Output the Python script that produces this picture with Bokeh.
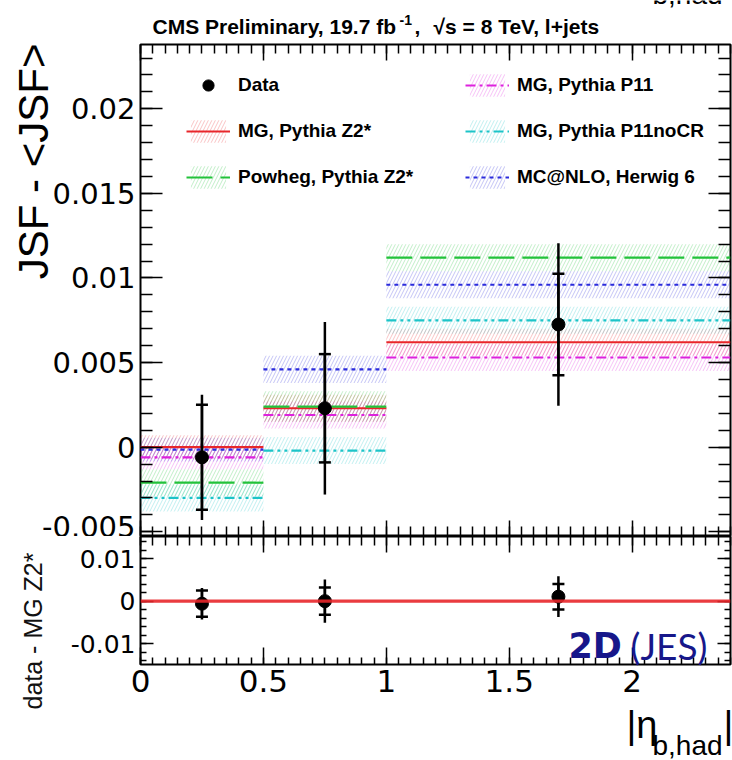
import math
from bokeh.plotting import figure
from bokeh.models import (Range1d, LinearAxis, SingleIntervalTicker, CustomJSTickFormatter,
                          Label, Legend, LegendItem, Whisker, TeeHead, ColumnDataSource, Span,
                          GridBox)
from bokeh.layouts import column
from bokeh.embed import file_html
from bokeh.resources import INLINE

# ---------------- data ----------------
bin_lo = [0.0, 0.5, 1.0]
bin_hi = [0.5, 1.0, 2.4]
bin_center = [0.25, 0.75, 1.7]

data_val = [-0.0006, 0.0023, 0.00725]
data_stat = [0.0031, 0.0032, 0.0030]
data_tot = [0.0037, 0.0051, 0.0048]

mg_z2 = [0.0000, 0.0023, 0.0062]
mg_z2_err = [0.0007, 0.0008, 0.0008]
powheg = [-0.0021, 0.0024, 0.0112]
powheg_err = [0.0008, 0.0009, 0.0008]
p11 = [-0.0006, 0.0019, 0.0053]
p11_err = [0.0007, 0.0008, 0.0008]
p11nocr = [-0.0030, -0.0002, 0.0075]
p11nocr_err = [0.0008, 0.0008, 0.0008]
mcnlo = [-0.00015, 0.0046, 0.0096]
mcnlo_err = [0.0007, 0.0008, 0.0008]

FONT = "Liberation Sans"
TICKFONT = "DejaVu Sans"

# ---------------- helpers ----------------
FMT3 = r"""
let s = tick.toFixed(3).replace(/0+$/, '').replace(/\.$/, '');
if (s == '-0') { s = '0'; }
return s;
"""
FMT2 = r"""
let s = tick.toFixed(2).replace(/0+$/, '').replace(/\.$/, '');
if (s == '-0') { s = '0'; }
return s;
"""


def make_axis(interval, nminor, fmt, tick_major, tick_minor, label_size=None, standoff=4):
    ax = LinearAxis(ticker=SingleIntervalTicker(interval=interval, num_minor_ticks=nminor),
                    formatter=CustomJSTickFormatter(code=fmt),
                    major_tick_in=tick_major, major_tick_out=0,
                    minor_tick_in=tick_minor, minor_tick_out=0,
                    major_tick_line_width=1.5, minor_tick_line_width=1.5,
                    major_tick_line_color="black", minor_tick_line_color="black",
                    axis_line_color=None)
    if label_size is None:
        ax.major_label_text_font_size = "0px"
        ax.major_label_text_color = None
        ax.major_label_standoff = 0
    else:
        ax.major_label_text_font_size = f"{label_size}px"
        ax.major_label_text_font = TICKFONT
        ax.major_label_text_color = "black"
        ax.major_label_standoff = standoff
    return ax


xr = Range1d(0, 2.4)

# ---------------- main panel ----------------
p1 = figure(width=732, height=536, x_range=xr, y_range=Range1d(-0.00528, 0.0238),
            x_axis_type=None, y_axis_type=None, toolbar_location=None, output_backend="svg",
            min_border_left=140, min_border_right=2, min_border_top=44, min_border_bottom=0,
            outline_line_color="black", outline_line_width=2,
            background_fill_color="white", border_fill_color="white")

p1.add_layout(make_axis(0.005, 5, FMT3, 22, 12, label_size=29, standoff=5), "left")
p1.add_layout(make_axis(0.005, 5, FMT3, 22, 12), "right")
p1.add_layout(make_axis(0.5, 10, FMT2, 16, 9), "above")
p1.add_layout(make_axis(0.5, 10, FMT2, 16, 10), "below")

models = [
    ("MG, Pythia Z2*", mg_z2, mg_z2_err, "#e8262a", "solid"),
    ("Powheg, Pythia Z2*", powheg, powheg_err, "#22c23a", "26 8"),
    ("MG, Pythia P11", p11, p11_err, "#dd22dd", "10 4 3 4"),
    ("MG, Pythia P11noCR", p11nocr, p11nocr_err, "#1cc4c8", "10 4 3 4 3 4"),
    ("MC@NLO, Herwig 6", mcnlo, mcnlo_err, "#2b2bdc", "4 4"),
]

bands = {}
for name, vals, errs, col, dash in models:
    src = ColumnDataSource(dict(left=bin_lo, right=bin_hi,
                                bottom=[v - e for v, e in zip(vals, errs)],
                                top=[v + e for v, e in zip(vals, errs)]))
    bands[name] = p1.quad(left="left", right="right", bottom="bottom", top="top", source=src,
                          fill_color=None, line_color=None, hatch_pattern="/",
                          hatch_color=col, hatch_alpha=0.28, hatch_scale=7, hatch_weight=1)

lines = {}
for name, vals, errs, col, dash in [models[0], models[2], models[3], models[4], models[1]]:
    src = ColumnDataSource(dict(x0=bin_lo, x1=bin_hi, y=vals))
    lines[name] = p1.segment(x0="x0", x1="x1", y0="y", y1="y", source=src,
                             line_color=col, line_width=2.2, line_dash=dash)

dsrc = ColumnDataSource(dict(
    x=bin_center, y=data_val,
    stat_lo=[v - e for v, e in zip(data_val, data_stat)],
    stat_hi=[v + e for v, e in zip(data_val, data_stat)],
    tot_lo=[v - e for v, e in zip(data_val, data_tot)],
    tot_hi=[v + e for v, e in zip(data_val, data_tot)],
))
p1.add_layout(Whisker(source=dsrc, base="x", upper="tot_hi", lower="tot_lo",
                      line_color="black", line_width=2.5, upper_head=None, lower_head=None,
                      level="glyph"))
p1.add_layout(Whisker(source=dsrc, base="x", upper="stat_hi", lower="stat_lo",
                      line_color="black", line_width=2.5, level="glyph",
                      upper_head=TeeHead(size=12, line_width=2.5, line_color="black"),
                      lower_head=TeeHead(size=12, line_width=2.5, line_color="black")))
r_data = p1.scatter(x="x", y="y", source=dsrc, size=13, color="black")


def legend(items, loc):
    return Legend(items=items, location=loc, orientation="vertical",
                  glyph_width=44, glyph_height=28, spacing=18, padding=0, margin=0,
                  label_standoff=8, label_text_font=FONT, label_text_font_size="19px",
                  label_text_font_style="bold", label_text_color="black",
                  label_text_baseline="middle",
                  border_line_color=None, background_fill_alpha=0)


leg1 = legend([
    LegendItem(label="Data", renderers=[r_data]),
    LegendItem(label="MG, Pythia Z2*", renderers=[bands["MG, Pythia Z2*"], lines["MG, Pythia Z2*"]]),
    LegendItem(label="Powheg, Pythia Z2*", renderers=[bands["Powheg, Pythia Z2*"], lines["Powheg, Pythia Z2*"]]),
], (46, 345))
leg2 = legend([
    LegendItem(label="MG, Pythia P11", renderers=[bands["MG, Pythia P11"], lines["MG, Pythia P11"]]),
    LegendItem(label="MG, Pythia P11noCR", renderers=[bands["MG, Pythia P11noCR"], lines["MG, Pythia P11noCR"]]),
    LegendItem(label="MC@NLO, Herwig 6", renderers=[bands["MC@NLO, Herwig 6"], lines["MC@NLO, Herwig 6"]]),
], (325, 345))
p1.add_layout(leg1)
p1.add_layout(leg2)

# ---------------- ratio panel ----------------
p2 = figure(width=732, height=224, x_range=xr, y_range=Range1d(-0.0149, 0.0152),
            x_axis_type=None, y_axis_type=None, toolbar_location=None, output_backend="svg",
            min_border_left=140, min_border_right=2, min_border_top=0, min_border_bottom=96,
            outline_line_color="black", outline_line_width=2,
            background_fill_color="white", border_fill_color="white")

p2.add_layout(make_axis(0.01, 5, FMT3, 13, 6, label_size=25, standoff=5), "left")
p2.add_layout(make_axis(0.01, 5, FMT3, 13, 6), "right")
p2.add_layout(make_axis(0.5, 10, FMT2, 16, 9), "above")
p2.add_layout(make_axis(0.5, 10, FMT2, 17, 7, label_size=31, standoff=5), "below")

p2.add_layout(Span(location=0, dimension="width", line_color="#e8262a", line_width=3.2, line_alpha=0.9))

ratio_val = [d - m for d, m in zip(data_val, mg_z2)]
rsrc = ColumnDataSource(dict(
    x=bin_center, y=ratio_val,
    stat_lo=[v - e for v, e in zip(ratio_val, data_stat)],
    stat_hi=[v + e for v, e in zip(ratio_val, data_stat)],
    tot_lo=[v - e for v, e in zip(ratio_val, data_tot)],
    tot_hi=[v + e for v, e in zip(ratio_val, data_tot)],
))
p2.add_layout(Whisker(source=rsrc, base="x", upper="tot_hi", lower="tot_lo",
                      line_color="black", line_width=2.5, upper_head=None, lower_head=None,
                      level="glyph"))
p2.add_layout(Whisker(source=rsrc, base="x", upper="stat_hi", lower="stat_lo",
                      line_color="black", line_width=2.5, level="glyph",
                      upper_head=TeeHead(size=12, line_width=2.5, line_color="black"),
                      lower_head=TeeHead(size=12, line_width=2.5, line_color="black")))
p2.scatter(x="x", y="y", source=rsrc, size=13, color="black")

# ---------------- transparent text overlay (page pixel coordinates) ----------------
ov = figure(width=732, height=760, x_range=Range1d(0, 732), y_range=Range1d(760, 0),
            x_axis_type=None, y_axis_type=None, toolbar_location=None, output_backend="svg",
            min_border=0, outline_line_color=None,
            background_fill_color=None, border_fill_color=None)


def add_text(cx, cy, text, size, font=FONT, style="normal", color="black", angle=0.0,
             align="left"):
    ov.add_layout(Label(x=cx, y=cy, text=text, text_font=font, text_font_size=f"{size}px",
                        text_font_style=style, text_color=color, angle=angle,
                        text_align=align, text_baseline="middle"))


add_text(152, 26, "CMS Preliminary, 19.7 fb", 21, style="bold")
add_text(399, 19, "-1", 14, style="bold")
add_text(414, 26, ",", 21, style="bold")
add_text(433, 26, "\u221as = 8 TeV, l+jets", 21, style="bold")
add_text(652, -6, "b,had", 28)
add_text(33, 43, "JSF - <JSF>", 42, angle=math.pi / 2, align="right")
add_text(32, 552, "data - MG Z2*", 25, angle=math.pi / 2, align="right", color="#111111")
add_text(568, 645, "2D", 35, font="DejaVu Sans", style="bold", color="#17178a")
add_text(630, 645, "(JES)", 37, font="Lato", color="#17178a")
add_text(626, 724, "|\u03b7", 38)
add_text(652, 745, "b,had", 28)
add_text(723, 724, "|", 38)

inner = column(p1, p2, spacing=0)
layout = GridBox(children=[(inner, 0, 0), (ov, 0, 0)], spacing=0)
open("out.html", "w").write(file_html(layout, INLINE))
